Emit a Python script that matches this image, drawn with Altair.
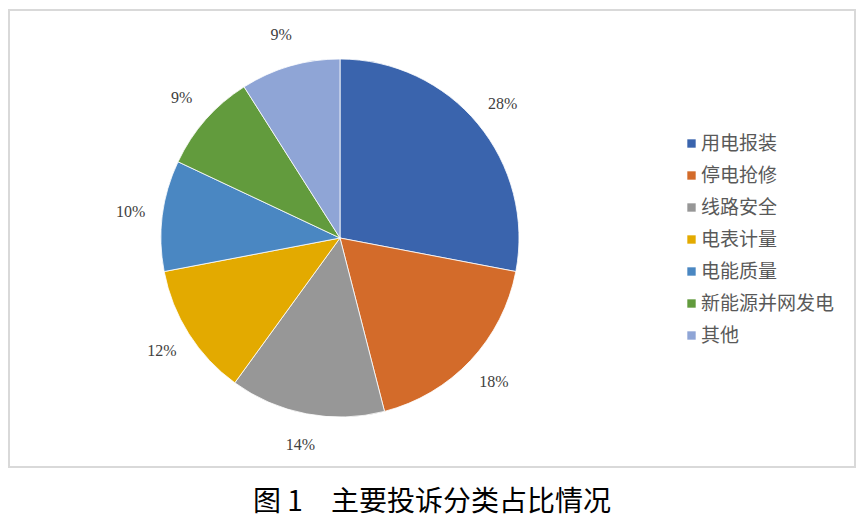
import altair as alt
import pandas as pd

categories = ["用电报装", "停电抢修", "线路安全", "电表计量", "电能质量", "新能源并网发电", "其他"]
values = [28, 18, 14, 12, 10, 9, 9]
labels = ["28%", "18%", "14%", "12%", "10%", "9%", "9%"]
colors = ["#3A64AD", "#D36B2A", "#979797", "#E3AA00", "#4A87C2", "#629B3D", "#8FA5D6"]
caption = ["图 1　主要投诉分类占比情况"]

df = pd.DataFrame({"类别": categories, "值": values, "标签": labels, "序": list(range(len(categories)))})
cap_df = pd.DataFrame({"t": caption})

CX, CY = 332, 230

theta = alt.Theta("值:Q", stack=True)
order = alt.Order("序:Q", sort="ascending")

frame = alt.Chart(cap_df).mark_rect(fill="white", stroke="#D9D9D9", strokeWidth=2).encode(
    x=alt.value(1), x2=alt.value(847), y=alt.value(2), y2=alt.value(459)
)

arcs = alt.Chart(df).mark_arc(outerRadius=179, stroke="white", strokeWidth=0.8).encode(
    theta=theta,
    order=order,
    color=alt.Color(
        "类别:N",
        sort=categories,
        scale=alt.Scale(domain=categories, range=colors),
        legend=alt.Legend(
            title=None,
            orient="none",
            legendX=674,
            legendY=126,
            symbolType="square",
            symbolSize=70,
            symbolStrokeWidth=0,
            labelFont="Noto Sans CJK SC",
            labelFontSize=19,
            labelColor="#595959",
            labelOffset=0,
            rowPadding=12,
            padding=0,
        ),
    ),
    x=alt.value(CX),
    y=alt.value(CY),
)

texts = alt.Chart(df).mark_text(radius=211, font="Liberation Serif", fontSize=16, color="#404040").encode(
    theta=theta,
    order=order,
    text="标签:N",
    x=alt.value(CX),
    y=alt.value(CY),
)

cap = alt.Chart(cap_df).mark_text(font="Noto Sans CJK SC", fontSize=28, color="#000000").encode(
    text="t:N", x=alt.value(424), y=alt.value(495)
)

chart = alt.layer(frame, arcs, texts, cap).properties(
    width=848, height=512, autosize=alt.AutoSizeParams(type="none"), padding=0
).configure_view(stroke=None)

chart.save("out.html", embed_options={"renderer": "svg", "actions": False})
